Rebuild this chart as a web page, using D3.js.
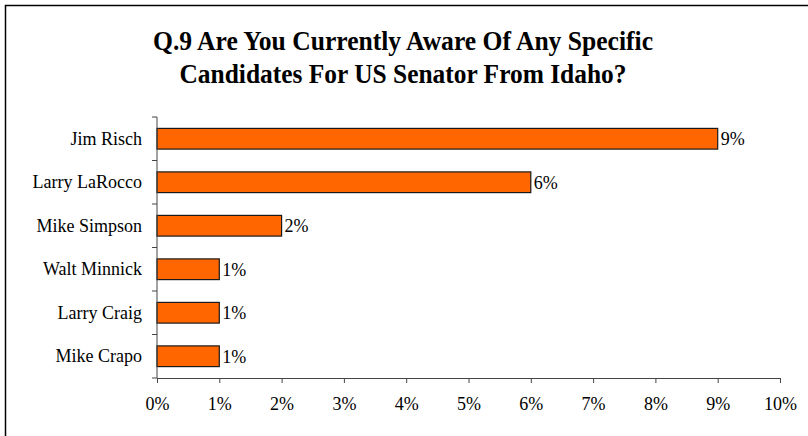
<!DOCTYPE html>
<html>
<head>
<meta charset="utf-8">
<script src="https://cdn.jsdelivr.net/npm/d3@7"></script>
<style>
  html, body { margin: 0; padding: 0; background: #fff; }
  svg { display: block; }
</style>
</head>
<body>
<svg id="chart" width="808" height="436"></svg>
<script>
// Survey responses, top to bottom
const candidates = ["Jim Risch", "Larry LaRocco", "Mike Simpson", "Walt Minnick", "Larry Craig", "Mike Crapo"];
const shares = [0.09, 0.06, 0.02, 0.01, 0.01, 0.01];
const xTicks = [0, 0.01, 0.02, 0.03, 0.04, 0.05, 0.06, 0.07, 0.08, 0.09, 0.10];
const titleLines = ["Q.9 Are You Currently Aware Of Any Specific", "Candidates For US Senator From Idaho?"];

const serif = "'Liberation Serif', 'Times New Roman', serif";
const svg = d3.select("#chart");
const plotLeft = 157, plotRight = 780, plotTop = 117, plotBottom = 378;
const pad = 0.524;

// Chart frame
svg.append("rect")
  .attr("x", 5.5).attr("y", 5.5)
  .attr("width", 820).attr("height", 450)
  .attr("fill", "none").attr("stroke", "#000").attr("stroke-width", 1.5);

// Title (two lines, condensed bold serif)
const titleWidths = [500, 447];
svg.append("g").selectAll("text").data(titleLines).join("text")
  .attr("x", 403)
  .attr("y", (d, i) => 50 + i * 32.5)
  .attr("text-anchor", "middle")
  .attr("textLength", (d, i) => titleWidths[i])
  .attr("lengthAdjust", "spacingAndGlyphs")
  .style("font-family", serif)
  .style("font-size", "27px")
  .style("font-weight", "bold")
  .style("fill", "#000")
  .text(d => d);

const x = d3.scaleLinear().domain([0, 0.10]).range([plotLeft, plotRight]);
const y = d3.scaleBand().domain(candidates).range([plotTop, plotBottom])
  .paddingInner(pad).paddingOuter(pad / 2);

// Bars
svg.append("g").selectAll("rect").data(candidates).join("rect")
  .attr("x", x(0))
  .attr("y", d => y(d))
  .attr("width", (d, i) => x(shares[i]) - x(0))
  .attr("height", y.bandwidth())
  .attr("fill", "#FF6600")
  .attr("stroke", "#1a1a1a")
  .attr("stroke-width", 1.2);

// Value labels
svg.append("g").selectAll("text").data(candidates).join("text")
  .attr("x", (d, i) => x(shares[i]) + 3)
  .attr("y", d => y(d) + y.bandwidth() / 2)
  .attr("dy", "0.35em")
  .style("font-family", serif)
  .style("font-size", "18px")
  .style("fill", "#000")
  .text((d, i) => d3.format(".0%")(shares[i]));

// X axis
const xAxis = svg.append("g")
  .attr("transform", `translate(0,${plotBottom})`)
  .call(d3.axisBottom(x).tickValues(xTicks).tickFormat(d3.format(".0%")).tickSize(5).tickPadding(14).tickSizeOuter(0));
xAxis.select(".domain").attr("stroke", "#444");
xAxis.selectAll(".tick line").attr("stroke", "#444");
xAxis.selectAll("text").style("font-family", serif).style("font-size", "18px").style("fill", "#000");

// Y axis with labels centred on bars
const yAxis = svg.append("g")
  .attr("transform", `translate(${plotLeft},0)`)
  .call(d3.axisLeft(y).tickSize(0).tickPadding(15));
yAxis.select(".domain").attr("d", `M0,${plotTop}V${plotBottom}`).attr("stroke", "#444");
yAxis.selectAll("text").style("font-family", serif).style("font-size", "18px").style("fill", "#000");

// Category boundary ticks
const step = y.step();
const bounds = candidates.map(c => y(c) - step * pad / 2).concat([plotBottom]);
svg.append("g").selectAll("line").data(bounds).join("line")
  .attr("x1", plotLeft - 5).attr("x2", plotLeft)
  .attr("y1", d => d).attr("y2", d => d)
  .attr("stroke", "#444");
</script>
</body>
</html>
